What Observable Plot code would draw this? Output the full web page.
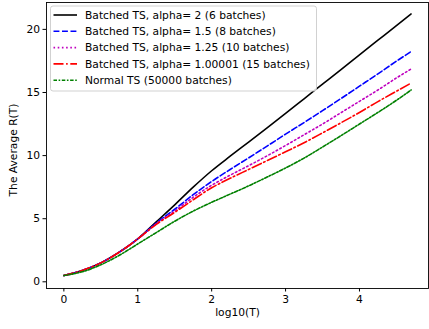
<!DOCTYPE html>
<html>
<head>
<meta charset="utf-8">
<script src="https://cdn.jsdelivr.net/npm/d3@7"></script>
<script src="https://cdn.jsdelivr.net/npm/@observablehq/plot@0.6"></script>
<style>
  html, body { margin: 0; padding: 0; background: white; }
  #chart { position: relative; width: 429px; height: 329px; }
</style>
</head>
<body>
<div id="chart"></div>
<script>
// ---- data ----
const logT = [0, 0.25, 0.5, 0.75, 1, 1.25, 1.5, 1.75, 2, 2.25, 2.5, 2.75, 3, 3.25, 3.5, 3.75, 4, 4.25, 4.5, 4.699];
const alpha2      = [0.5, 0.9, 1.5, 2.35, 3.4, 4.75, 6.1, 7.5, 8.8, 9.95, 11.07, 12.2, 13.34, 14.5, 15.66, 16.82, 17.98, 19.14, 20.3, 21.22];
const alpha15     = [0.5, 0.9, 1.5, 2.35, 3.4, 4.65, 5.75, 6.9, 7.95, 8.9, 9.82, 10.75, 11.7, 12.62, 13.56, 14.52, 15.5, 16.48, 17.48, 18.25];
const alpha125    = [0.5, 0.9, 1.5, 2.35, 3.4, 4.6, 5.6, 6.7, 7.65, 8.45, 9.2, 9.98, 10.8, 11.65, 12.5, 13.4, 14.3, 15.2, 16.15, 16.86];
const alpha100001 = [0.5, 0.9, 1.5, 2.35, 3.4, 4.55, 5.5, 6.5, 7.45, 8.2, 8.9, 9.6, 10.3, 11.02, 11.8, 12.6, 13.42, 14.28, 15.1, 15.75];
const normalTS    = [0.5, 0.8, 1.35, 2.1, 3.0, 3.9, 4.8, 5.6, 6.3, 6.95, 7.6, 8.3, 9.02, 9.8, 10.68, 11.58, 12.5, 13.42, 14.38, 15.2];

const seriesNames = [
  "Batched TS, alpha= 2 (6 batches)",
  "Batched TS, alpha= 1.5 (8 batches)",
  "Batched TS, alpha= 1.25 (10 batches)",
  "Batched TS, alpha= 1.00001 (15 batches)",
  "Normal TS (50000 batches)"
];
const seriesValues = [alpha2, alpha15, alpha125, alpha100001, normalTS];
const xTicks = [0, 1, 2, 3, 4];
const yTicks = [0, 5, 10, 15, 20];
const xLabel = "log10(T)";
const yLabel = "The Average R(T)";

// ---- styles ----
const FS = 10.7;
const colors = ["#000000", "#0000ff", "#bf00bf", "#ff0000", "#008000"];
const dashes = [null, "5.9,2.6", "1.6,2.6", "10,2.6,1.6,2.6", "3.5,1.6,1.6,1.6"];

const lineMarks = seriesValues.map((vals, i) => {
  const rows = logT.map((x, j) => ({x, y: vals[j]}));
  return Plot.line(rows, {
    x: "x", y: "y", stroke: colors[i], strokeWidth: 1.6,
    strokeDasharray: dashes[i], curve: "monotone-x"
  });
});

const plot = Plot.plot({
  width: 429,
  height: 329,
  marginLeft: 46,
  marginRight: 1,
  marginTop: 2,
  marginBottom: 41,
  style: {fontFamily: "DejaVu Sans", fontSize: FS + "px", background: "white", color: "black"},
  x: {domain: [-0.235, 4.934]},
  y: {domain: [-0.53, 22.13]},
  marks: [
    Plot.axisX({ticks: xTicks, tickSize: 3.5, tickPadding: 3, tickFormat: d => String(d), label: null, fontSize: FS}),
    Plot.axisY({ticks: yTicks, tickSize: 3.5, tickPadding: 3, tickFormat: d => String(d), label: null, fontSize: FS}),
    ...lineMarks,
    Plot.frame({stroke: "black", strokeWidth: 0.9}),
    Plot.text([xLabel], {frameAnchor: "bottom", dy: 27, fontSize: FS, fill: "black"})
  ]
});
document.getElementById("chart").appendChild(plot);

const svg = d3.select(plot);

// y-axis label (rotated)
svg.append("text")
  .attr("transform", "translate(13,150) rotate(-90)")
  .attr("text-anchor", "middle").attr("dy", "0.35em")
  .attr("font-family", "DejaVu Sans").attr("font-size", FS)
  .attr("fill", "black").text(yLabel);

// ---- legend inside the axes (upper left) ----
const lg = svg.append("g").attr("font-family", "DejaVu Sans").attr("font-size", FS)
  .attr("text-anchor", "start");
lg.append("rect")
  .attr("x", 50.5).attr("y", 6).attr("width", 266).attr("height", 85)
  .attr("rx", 2.5).attr("fill", "white").attr("fill-opacity", 0.8)
  .attr("stroke", "#cccccc").attr("stroke-width", 0.9);
seriesNames.forEach((name, i) => {
  const cy = 15 + i * 16.3;
  lg.append("line")
    .attr("x1", 53.5).attr("x2", 77).attr("y1", cy).attr("y2", cy)
    .attr("stroke", colors[i]).attr("stroke-width", 1.6)
    .attr("stroke-dasharray", dashes[i]);
  lg.append("text")
    .attr("x", 85).attr("y", cy).attr("dy", "0.35em")
    .attr("text-anchor", "start")
    .attr("fill", "black").text(name);
});
</script>
</body>
</html>
